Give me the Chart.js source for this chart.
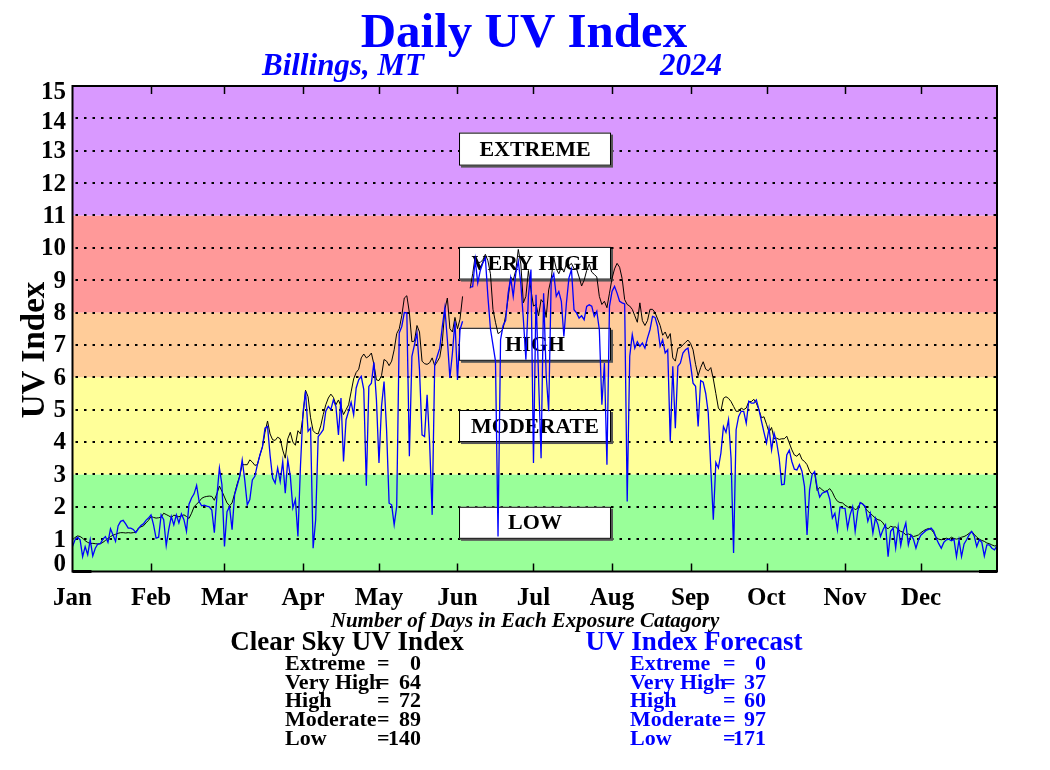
<!DOCTYPE html>
<html><head><meta charset="utf-8">
<script src="https://cdn.jsdelivr.net/npm/chart.js@4.4.1/dist/chart.umd.min.js"></script>
<style>html,body{margin:0;padding:0;background:#fff;}canvas{display:block;}</style>
</head><body>
<canvas id="c" width="1050" height="770"></canvas>
<script>
// ---------------- data ----------------
const monthLabels = ['Jan','Feb','Mar','Apr','May','Jun','Jul','Aug','Sep','Oct','Nov','Dec'];
const monthStartDays = [0,31,60,91,121,152,182,213,244,274,305,335];
const yTickValues = [0,1,2,3,4,5,6,7,8,9,10,11,12,13,14,15];
const bandLimits = [0,3,6,8,11,15];
const boxLabels = ['EXTREME','VERY HIGH','HIGH','MODERATE','LOW'];
const categoryNames = ['Extreme','Very High','High','Moderate','Low'];
const clearSkyCounts = [0,64,72,89,140];
const forecastCounts = [0,37,60,97,171];

// Clear-sky UV index, one value per day (Jan 1 .. Dec 31, 2024)
const clearSky = [
  // Jan
  0.98,1.05,1.1,1.08,1.03,0.95,0.9,0.86,0.87,0.86, 0.85,0.86,0.9,0.96,1.02,1.08,1.12,1.15,1.18,1.2,
  1.2,1.19,1.2,1.19,1.2,1.22,1.34,1.38,1.41,1.5, 1.58,
  // Feb
  1.7,1.67,1.65,1.66,1.68,1.8,1.76,1.72,1.67, 1.74,1.72,1.69,1.72,1.75,1.7,1.64,1.8,2.0,2.08,
  2.16,2.26,2.3,2.32,2.33,2.32,2.2,2.4,2.64,2.48,
  // Mar
  2.3,2.12,2.03,2.12,2.4,2.7,2.94,3.3,3.3,3.3, 3.45,3.38,3.28,3.3,3.6,3.85,4.3,4.65,4.25,4.07,
  4.05,4.15,4.1,3.75,3.5,4.1,4.3,4.0,3.9,4.35, 4.25,
  // Apr
  4.8,5.6,5.4,4.75,4.35,4.27,4.25,4.5,4.85, 5.15,5.36,5.48,5.38,5.15,5.3,5.1,4.85,5.0,5.15,
  5.55,5.95,6.15,6.25,6.6,6.72,6.6,6.65,6.75,6.4, 5.92,
  // May
  5.9,6.05,6.55,6.5,6.36,6.5,6.85,7.35,7.5, 7.9,8.45,8.52,8.0,7.1,7.12,7.6,7.4,6.5,6.42,
  6.4,6.45,6.6,6.36,6.48,6.62,7.1,8.1,8.45,7.5, 7.4,7.85,
  // Jun
  7.5,7.8,8.5,null,null,8.75,9.2,9.75, 9.55,9.55,9.63,9.8,9.6,9.2,8.1,7.7,7.35,7.4,
  7.5,7.9,8.45,9.1,9.0,9.3,9.95,9.5,8.3,8.5, 9.3,8.7,
  // Jul
  8.2,8.25,7.9,8.4,8.3,7.85,8.7,9.05, 9.7,9.35,9.2,9.4,9.25,9.5,9.45,9.52,9.35,9.35,
  9.1,8.82,9.0,9.3,9.5,9.25,9.18,9.1,8.5,8.25, 8.35,8.15,8.6,
  // Aug
  9.05,9.35,9.52,9.4,9.05,8.4,8.25, 8.2,8.1,7.9,7.7,8.3,7.75,7.6,7.75,8.1,8.1,
  8.0,7.8,7.6,7.3,7.4,7.2,7.35,6.6,6.5,6.9, 6.92,7.0,7.08,7.15,
  // Sep
  7.05,6.85,6.4,6.05,6.3,6.48, 6.25,6.2,6.3,5.95,5.5,5.05,4.95,5.35,5.4,5.35,
  5.25,5.1,4.95,4.95,5.05,5.0,5.05,5.25,5.25,5.32, 5.2,5.0,4.75,4.78,
  // Oct
  4.55,4.3,4.45,4.1,4.12,4.08, 4.1,4.1,4.18,3.97,3.76,3.6,3.56,3.65,3.46,3.4,
  3.3,3.1,3.0,3.05,2.5,2.6,2.52,2.47,2.5,2.56, 2.45,2.28,2.17,2.13,2.12,
  // Nov
  2.05,2.0,1.96,1.99,1.91, 1.95,2.12,2.1,1.96,1.86,1.8,1.72,1.65,1.6,1.58,
  1.5,1.37,1.32,1.4,1.37,1.38,1.29,1.24,1.21,1.13, 1.16,1.13,1.08,1.1,1.13,
  // Dec
  1.2,1.26,1.3,1.33,1.3, 1.2,1.05,1.0,0.98,1.0,1.03,1.0,1.06,1.02,1.0,
  1.02,1.06,1.08,1.12,1.18,1.24,1.15,1.06,1.0,0.96, 0.93,0.88,0.86,0.82,0.79,0.8
];

// UV index forecast, one value per day
const forecast = [
  // Jan
  0.77,0.98,1.06,0.98,0.46,0.77,0.52,0.98,0.48,0.72, 0.85,0.86,1.0,1.08,0.9,1.32,1.13,0.93,1.41,1.55,
  1.58,1.47,1.34,1.34,1.3,1.2,1.32,1.42,1.47,1.58, 1.65,
  // Feb
  1.75,1.44,1.03,1.06,1.75,1.6,0.8,1.3,1.7, 1.44,1.75,1.5,1.78,1.6,1.24,2.08,2.27,2.4,2.66,
  2.16,2.03,2.05,2.02,2.0,1.9,1.2,2.32,3.2,2.68,
  // Mar
  0.77,1.85,2.0,1.29,2.37,2.65,2.94,3.45,2.83,2.06, 2.22,2.83,2.94,3.3,3.6,3.86,4.43,4.48,3.6,2.89,
  2.73,3.2,2.78,3.4,2.42,3.45,2.94,1.96,2.22,1.08, 3.25,
  // Apr
  4.9,5.57,4.33,4.43,0.72,1.6,4.17,4.27,4.38, 4.95,5.1,5.0,5.3,5.1,4.22,5.36,3.4,4.69,4.95,
  5.23,4.84,5.67,5.92,6.03,5.62,2.65,5.72,5.82,6.46, 5.3,
  // May
  3.35,5.1,5.87,4.38,2.11,2.06,1.44,2.01,7.37, 7.57,8.0,7.99,3.56,6.65,7.0,7.37,6.23,4.22,4.17,
  5.46,3.97,1.75,6.39,6.65,6.9,7.57,8.14,7.16,5.98, 6.75,7.73,
  // Jun
  5.92,7.47,7.73,null,null,8.79,8.8,9.63, 8.91,9.3,9.53,9.69,8.5,7.5,7.0,6.5,1.08,7.16,
  7.6,7.75,8.6,9.07,8.5,9.2,9.58,8.9,7.8,6.54, 8.5,9.33,
  // Jul
  3.35,8.55,6.0,3.5,8.6,6.1,4.95,9.0, 9.2,8.5,8.65,8.35,7.26,8.29,9.07,9.33,8.09,7.99,
  7.83,7.9,7.78,8.19,8.24,8.2,7.88,8.04,7.47,5.15, 6.44,3.3,8.19,
  // Aug
  8.65,8.81,8.6,8.35,8.3,8.27,2.16, 6.65,7.32,6.9,7.1,6.96,7.06,6.9,7.21,7.47,7.88,
  7.85,7.57,6.96,7.16,6.75,6.85,4.02,6.34,4.43,6.34, 6.44,6.75,6.85,6.9,
  // Sep
  6.4,5.82,5.72,4.48,5.9,5.85, 5.5,4.9,3.2,1.6,3.37,3.2,3.66,4.48,4.3,4.69,
  3.5,0.57,4.38,4.79,4.95,4.95,4.58,5.26,5.2,5.2, 5.3,5.0,4.65,4.3,
  // Oct
  3.97,4.43,3.76,4.27,4.0,3.5, 2.68,2.7,3.6,3.75,3.4,3.16,3.14,3.3,3.1,2.63,
  1.13,2.52,2.99,3.09,2.6,2.3,2.42,2.45,2.48,2.22, 1.65,1.8,1.29,1.98,1.96,
  // Nov
  1.95,1.34,1.75,2.0,1.24, 1.86,2.13,2.08,2.01,1.55,1.8,1.19,1.65,1.45,1.08,
  1.29,1.44,0.46,1.24,1.34,0.72,1.39,0.8,1.24,1.5, 0.82,1.13,1.0,0.72,0.98,
  // Dec
  1.13,1.2,1.27,1.3,1.34, 1.25,1.03,0.86,0.72,0.9,0.98,1.0,0.95,1.0,0.46,
  0.98,0.46,0.85,0.98,1.13,1.24,1.1,0.77,0.98,0.9, 0.48,0.82,0.82,0.72,0.67,0.79
];

// ---------------- drawing ----------------
const SERIF = '"Liberation Serif","Times New Roman",serif';
const BLUE = '#0000FF';
const bandColors = ['#99FF99','#FFFF99','#FFCC99','#FF9999','#D999FF'];
const boxRanges = [[12.54,13.56],[9.02,10.03],[6.51,7.53],[4.0,4.99],[1.01,2.0]];
const boxDays = [152.6,212.6];
const yLabelShift = {0:-8, 14:3, 15:6};

const toPoints = arr => arr.map((v,i)=>({x:i, y:v}));

const uvPlugin = {
  id:'uvDecor',
  beforeDatasetsDraw(chart){
    const {ctx, chartArea:a, scales:{x,y}} = chart;
    ctx.save();
    // exposure bands
    for (let i=0;i<bandColors.length;i++){
      const t=y.getPixelForValue(bandLimits[i+1]), b=y.getPixelForValue(bandLimits[i]);
      ctx.fillStyle=bandColors[i];
      ctx.fillRect(a.left, t, a.right-a.left, b-t);
    }
    // dotted grid
    ctx.strokeStyle='#000'; ctx.lineWidth=2; ctx.setLineDash([2.5,6]);
    y.ticks.forEach(tk=>{
      if (tk.value<=0 || tk.value>=15) return;
      const py=Math.round(y.getPixelForValue(tk.value));
      ctx.beginPath(); ctx.moveTo(a.left+3,py); ctx.lineTo(a.right,py); ctx.stroke();
    });
    ctx.setLineDash([]);
    // category boxes
    const bx0=x.getPixelForValue(boxDays[0]), bx1=x.getPixelForValue(boxDays[1]);
    ctx.font='bold 22px '+SERIF; ctx.textAlign='center'; ctx.textBaseline='middle';
    boxRanges.forEach((r,i)=>{
      const t=y.getPixelForValue(r[1]), b=y.getPixelForValue(r[0]);
      ctx.fillStyle='#555'; ctx.fillRect(bx0+2,t+2,bx1-bx0,b-t);
      ctx.fillStyle='#fff'; ctx.fillRect(bx0,t,bx1-bx0,b-t);
      ctx.strokeStyle='#000'; ctx.lineWidth=1; ctx.strokeRect(bx0+0.5,t+0.5,bx1-bx0-1,b-t-1);
      ctx.fillStyle='#000'; ctx.fillText(boxLabels[i],(bx0+bx1)/2,(t+b)/2+1);
    });
    ctx.restore();
  },
  afterDatasetsDraw(chart){
    const {ctx, chartArea:a, scales:{x}} = chart;
    ctx.save();
    ctx.strokeStyle='#000'; ctx.lineWidth=2;
    ctx.strokeRect(a.left, a.top, a.right-a.left, a.bottom-a.top);
    ctx.lineWidth=1.5;
    monthStartDays.forEach(d=>{
      if (d===0) return;
      const px=Math.round(x.getPixelForValue(d))+0.5;
      ctx.beginPath(); ctx.moveTo(px,a.top); ctx.lineTo(px,a.top+8); ctx.stroke();
      ctx.beginPath(); ctx.moveTo(px,a.bottom); ctx.lineTo(px,a.bottom-8); ctx.stroke();
    });
    ctx.lineWidth=3;
    ctx.beginPath(); ctx.moveTo(a.left,a.bottom); ctx.lineTo(a.left+19,a.bottom); ctx.stroke();
    ctx.beginPath(); ctx.moveTo(a.right-18,a.bottom); ctx.lineTo(a.right,a.bottom); ctx.stroke();
    ctx.restore();
  },
  afterDraw(chart){
    const ctx=chart.ctx, y=chart.scales.y;
    ctx.save();
    // y tick labels (from the y scale's ticks)
    ctx.fillStyle='#000'; ctx.font='bold 25px '+SERIF; ctx.textAlign='right'; ctx.textBaseline='middle';
    y.ticks.forEach(tk=>{
      const py=y.getPixelForValue(tk.value)+(yLabelShift[tk.value]||0)+1;
      ctx.fillText(String(tk.value),66,py);
    });
    ctx.textBaseline='alphabetic';
    // titles
    ctx.fillStyle=BLUE; ctx.textAlign='center';
    ctx.font='bold 49px '+SERIF; ctx.fillText('Daily UV Index',524,47);
    ctx.textAlign='left';
    ctx.font='italic bold 31px '+SERIF;
    ctx.fillText('Billings, MT',262,75);
    ctx.fillText('2024',660,75);
    // y axis title
    ctx.fillStyle='#000';
    ctx.save(); ctx.translate(44,350); ctx.rotate(-Math.PI/2);
    ctx.textAlign='center'; ctx.font='bold 33px '+SERIF; ctx.fillText('UV Index',0,0);
    ctx.restore();
    // bottom summary
    ctx.textAlign='center';
    ctx.font='italic bold 21px '+SERIF;
    ctx.fillText('Number of Days in Each Exposure Catagory',525,627);
    ctx.font='bold 27px '+SERIF;
    ctx.fillText('Clear Sky UV Index',347,650);
    ctx.fillStyle=BLUE;
    ctx.fillText('UV Index Forecast',694,650);
    const drawTable=(x0,eqX,numR,counts,color)=>{
      ctx.fillStyle=color; ctx.font='bold 22px '+SERIF;
      categoryNames.forEach((n,i)=>{
        const yy=670+i*18.7;
        ctx.textAlign='left'; ctx.fillText(n,x0,yy); ctx.fillText('=',eqX,yy);
        ctx.textAlign='right'; ctx.fillText(String(counts[i]),numR,yy);
      });
    };
    drawTable(285,377,421,clearSkyCounts,'#000');
    drawTable(630,723,766,forecastCounts,BLUE);
    ctx.restore();
  }
};

new Chart(document.getElementById('c'), {
  type:'line',
  data:{datasets:[
    {label:'UV Index Forecast', data:toPoints(forecast), borderColor:BLUE, borderWidth:1.3, pointRadius:0, tension:0, spanGaps:false, fill:false},
    {label:'Clear Sky UV Index', data:toPoints(clearSky), borderColor:'#000', borderWidth:1, pointRadius:0, tension:0, spanGaps:false, fill:false}
  ]},
  options:{
    responsive:false, animation:false, devicePixelRatio:1,
    layout:{padding:{left:0, top:86, right:53, bottom:148.5}},
    plugins:{legend:{display:false}, tooltip:{enabled:false}, title:{display:false}},
    scales:{
      x:{type:'linear', min:0, max:365,
        grid:{display:false, drawTicks:false}, border:{display:false},
        afterBuildTicks:s=>{ s.ticks = monthStartDays.map(v=>({value:v})); },
        afterFit:s=>{ s.height=50; },
        ticks:{autoSkip:false, maxRotation:0, padding:12, color:'#000',
          font:{family:SERIF, size:25, weight:'bold'},
          callback:(v)=>monthLabels[monthStartDays.indexOf(v)]}
      },
      y:{min:0, max:15,
        grid:{display:false, drawTicks:false}, border:{display:false},
        afterBuildTicks:s=>{ s.ticks = yTickValues.map(v=>({value:v})); },
        afterFit:s=>{ s.width=72.5; },
        ticks:{display:false}
      }
    }
  },
  plugins:[uvPlugin]
});
</script>
</body></html>
